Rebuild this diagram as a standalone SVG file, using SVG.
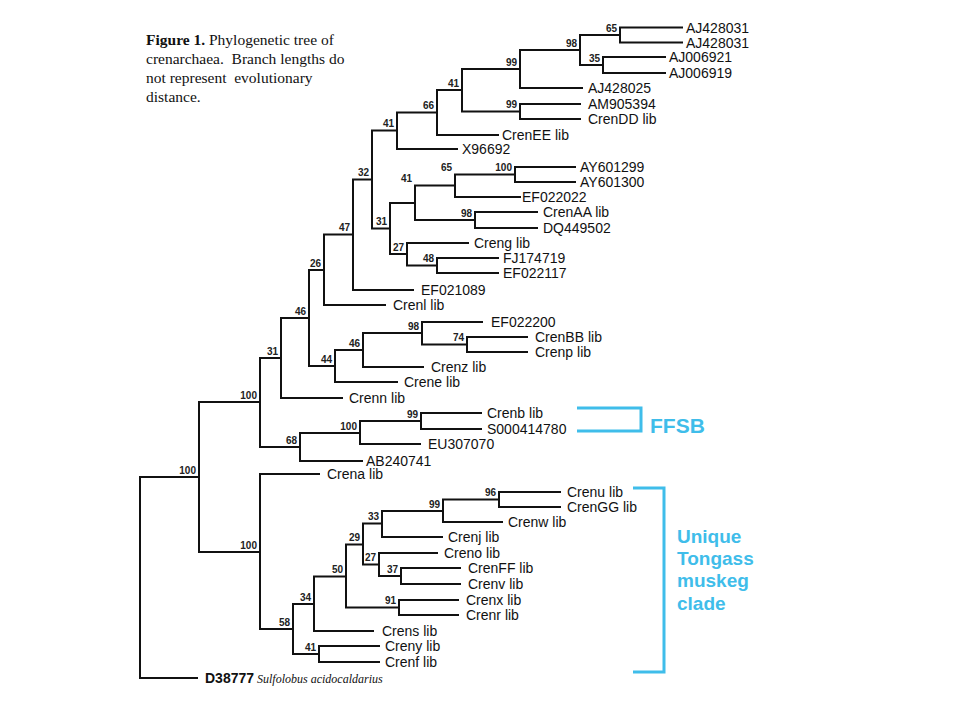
<svg xmlns="http://www.w3.org/2000/svg" width="960" height="720" viewBox="0 0 960 720">
<style>
.br{fill:none;stroke:#111;stroke-width:2;stroke-linecap:square}
.lf{font-family:"Liberation Sans",Arial,sans-serif;font-size:14px;fill:#111}
.bs{font-family:"Liberation Sans",Arial,sans-serif;font-size:10px;font-weight:bold;fill:#222;text-anchor:end}
.cap{font-family:"Liberation Serif","Times New Roman",serif;font-size:15.5px;fill:#111}
.bl{fill:none;stroke:#3fbdea;stroke-width:3}
.bt{font-family:"Liberation Sans",Arial,sans-serif;font-weight:bold;fill:#3fbdea}
</style>
<rect width="960" height="720" fill="#fff"/>
<g id="caption" class="cap">
<text x="146" y="45"><tspan font-weight="bold">Figure 1.</tspan> Phylogenetic tree of</text>
<text x="146" y="64" xml:space="preserve">crenarchaea.  Branch lengths do</text>
<text x="146" y="83" xml:space="preserve">not represent  evolutionary</text>
<text x="146" y="102">distance.</text>
</g>
<g id="branches" class="br">
<path d="M140 477V678M140 477H199M140 678H197"/>
<path d="M199 402V552M199 402H260M199 552H260"/>
<path d="M260 358V447M260 358H281M260 447H300"/>
<path d="M281 318V398M281 318H309M281 398H342"/>
<path d="M309 270V366M309 270H324M309 366H335"/>
<path d="M324 234.5V305M324 234.5H353M324 305H385"/>
<path d="M353 179.5V290M353 179.5H372M353 290H413"/>
<path d="M372 130.5V228.5M372 130.5H397M372 228.5H390"/>
<path d="M397 112.5V149M397 112.5H437M397 149H457"/>
<path d="M437 90V135M437 90H462M437 135H498"/>
<path d="M462 69V111.5M462 69H520M462 111.5H520"/>
<path d="M520 50V88M520 50H580M520 88H582"/>
<path d="M580 35V65M580 35H620M580 65H603"/>
<path d="M620 27.5V42.5M620 27.5H682M620 42.5H682"/>
<path d="M603 57V73M603 57H665M603 73H665"/>
<path d="M520 104V119M520 104H580M520 119H580"/>
<path d="M390 203V254M390 203H415M390 254H407"/>
<path d="M415 185.5V220M415 185.5H455M415 220H475"/>
<path d="M455 174.5V197M455 174.5H515M455 197H520"/>
<path d="M515 167V182M515 167H575M515 182H575"/>
<path d="M475 212V228M475 212H537M475 228H537"/>
<path d="M407 243V265.5M407 243H468M407 265.5H437"/>
<path d="M437 258V273M437 258H498M437 273H498"/>
<path d="M335 350V382M335 350H363M335 382H397"/>
<path d="M363 333V367M363 333H422M363 367H423"/>
<path d="M422 322V344.5M422 322H482M422 344.5H467"/>
<path d="M467 337V352M467 337H527M467 352H527"/>
<path d="M300 433V461M300 433H360M300 461H362"/>
<path d="M360 421V444M360 421H421M360 444H420"/>
<path d="M421 413V429M421 413H481M421 429H481"/>
<path d="M260 474V629M260 474H319M260 629H293"/>
<path d="M293 604V654M293 604H314M293 654H319"/>
<path d="M314 576.5V631M314 576.5H346M314 631H373"/>
<path d="M346 544.5V607.5M346 544.5H363M346 607.5H399"/>
<path d="M363 523.5V564.5M363 523.5H382M363 564.5H379"/>
<path d="M382 511V537M382 511H443M382 537H442"/>
<path d="M443 499.5V522M443 499.5H499M443 522H502"/>
<path d="M499 492V507M499 492H560M499 507H560"/>
<path d="M379 553V576M379 553H437M379 576H401"/>
<path d="M401 568V584M401 568H460M401 584H460"/>
<path d="M399 600V615M399 600H458M399 615H458"/>
<path d="M319 646V662M319 646H379M319 662H379"/>
</g>
<g id="support" class="bs">
<text x="196" y="474">100</text>
<text x="257" y="399">100</text>
<text x="278" y="355">31</text>
<text x="306" y="315">46</text>
<text x="321" y="267">26</text>
<text x="350" y="231">47</text>
<text x="369" y="176">32</text>
<text x="394" y="127">41</text>
<text x="434" y="109">66</text>
<text x="459" y="87">41</text>
<text x="517" y="66">99</text>
<text x="577" y="47">98</text>
<text x="617" y="32">65</text>
<text x="600" y="62">35</text>
<text x="517" y="108">99</text>
<text x="387" y="225">31</text>
<text x="412" y="182">41</text>
<text x="452" y="171">65</text>
<text x="512" y="171">100</text>
<text x="472" y="217">98</text>
<text x="404" y="251">27</text>
<text x="434" y="262">48</text>
<text x="332" y="363">44</text>
<text x="360" y="347">46</text>
<text x="419" y="330">98</text>
<text x="464" y="341">74</text>
<text x="297" y="444">68</text>
<text x="357" y="430">100</text>
<text x="418" y="418">99</text>
<text x="257" y="549">100</text>
<text x="290" y="626">58</text>
<text x="311" y="601">34</text>
<text x="343" y="573">50</text>
<text x="360" y="541">29</text>
<text x="379" y="520">33</text>
<text x="440" y="508">99</text>
<text x="496" y="496">96</text>
<text x="376" y="561">27</text>
<text x="398" y="573">37</text>
<text x="396" y="604">91</text>
<text x="316" y="651">41</text>
</g>
<g class="lf">
<g id="leaf-AJ428031a"><text x="686" y="32.5">AJ428031</text></g>
<g id="leaf-AJ428031b"><text x="686" y="47.5">AJ428031</text></g>
<g id="leaf-AJ006921"><text x="669" y="62">AJ006921</text></g>
<g id="leaf-AJ006919"><text x="669" y="78">AJ006919</text></g>
<g id="leaf-AJ428025"><text x="588" y="93">AJ428025</text></g>
<g id="leaf-AM905394"><text x="588" y="109">AM905394</text></g>
<g id="leaf-CrenDD"><text x="588" y="124">CrenDD lib</text></g>
<g id="leaf-CrenEE"><text x="502" y="140">CrenEE lib</text></g>
<g id="leaf-X96692"><text x="462" y="154">X96692</text></g>
<g id="leaf-AY601299"><text x="580" y="172">AY601299</text></g>
<g id="leaf-AY601300"><text x="580" y="187">AY601300</text></g>
<g id="leaf-EF022022"><text x="522" y="202">EF022022</text></g>
<g id="leaf-CrenAA"><text x="543" y="217">CrenAA lib</text></g>
<g id="leaf-DQ449502"><text x="543" y="233">DQ449502</text></g>
<g id="leaf-Creng"><text x="474" y="248">Creng lib</text></g>
<g id="leaf-FJ174719"><text x="503" y="263">FJ174719</text></g>
<g id="leaf-EF022117"><text x="503" y="278">EF022117</text></g>
<g id="leaf-EF021089"><text x="421" y="295">EF021089</text></g>
<g id="leaf-Crenl"><text x="393" y="310">Crenl lib</text></g>
<g id="leaf-EF022200"><text x="491" y="327">EF022200</text></g>
<g id="leaf-CrenBB"><text x="535" y="342">CrenBB lib</text></g>
<g id="leaf-Crenp"><text x="535" y="357">Crenp lib</text></g>
<g id="leaf-Crenz"><text x="431" y="372">Crenz lib</text></g>
<g id="leaf-Crene"><text x="404" y="387">Crene lib</text></g>
<g id="leaf-Crenn"><text x="349" y="403">Crenn lib</text></g>
<g id="leaf-Crenb"><text x="487" y="418">Crenb lib</text></g>
<g id="leaf-S000414780"><text x="487" y="434">S000414780</text></g>
<g id="leaf-EU307070"><text x="428" y="449">EU307070</text></g>
<g id="leaf-AB240741"><text x="366" y="466">AB240741</text></g>
<g id="leaf-Crena"><text x="327" y="479">Crena lib</text></g>
<g id="leaf-Crenu"><text x="567" y="497">Crenu lib</text></g>
<g id="leaf-CrenGG"><text x="567" y="512">CrenGG lib</text></g>
<g id="leaf-Crenw"><text x="508" y="527">Crenw lib</text></g>
<g id="leaf-Crenj"><text x="448" y="542">Crenj lib</text></g>
<g id="leaf-Creno"><text x="444" y="558">Creno lib</text></g>
<g id="leaf-CrenFF"><text x="468" y="573">CrenFF lib</text></g>
<g id="leaf-Crenv"><text x="468" y="589">Crenv lib</text></g>
<g id="leaf-Crenx"><text x="466" y="605">Crenx lib</text></g>
<g id="leaf-Crenr"><text x="466" y="620">Crenr lib</text></g>
<g id="leaf-Crens"><text x="382" y="636">Crens lib</text></g>
<g id="leaf-Creny"><text x="385" y="651">Creny lib</text></g>
<g id="leaf-Crenf"><text x="385" y="667">Crenf lib</text></g>
<g id="leaf-D38777"><text x="205" y="683" font-weight="bold">D38777</text><text x="257" y="683" font-family="'Liberation Serif','Times New Roman',serif" font-style="italic" font-size="12">Sulfolobus acidocaldarius</text></g>
</g>
<g id="ffsb">
<path class="bl" d="M577 408H641V431H577"/>
<text class="bt" x="650" y="433" font-size="21">FFSB</text>
</g>
<g id="tongass">
<path class="bl" d="M633 488H664V672H633"/>
<text class="bt" font-size="19"><tspan x="677" y="543">Unique</tspan><tspan x="677" y="565">Tongass</tspan><tspan x="677" y="587">muskeg</tspan><tspan x="677" y="610">clade</tspan></text>
</g>
</svg>
